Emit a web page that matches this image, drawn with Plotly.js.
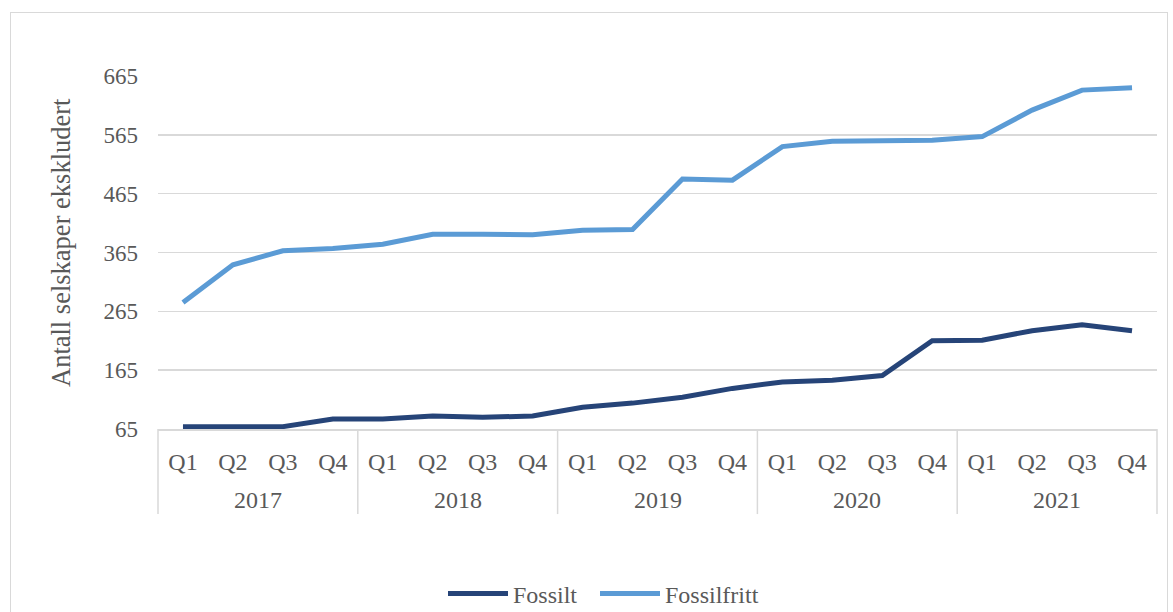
<!DOCTYPE html>
<html>
<head>
<meta charset="utf-8">
<script src="https://cdn.plot.ly/plotly-3.0.1.min.js"></script>
<style>
  html, body { margin: 0; padding: 0; background: #fff; }
  #wrap { position: relative; width: 1173px; height: 612px; overflow: hidden; }
  #chart { position: absolute; left: 0; top: 0; width: 1173px; height: 612px; }
  #frame { position: absolute; left: 10px; top: 12px; width: 1158px; height: 640px;
           border: 1.5px solid #d9d9d9; pointer-events: none; box-sizing: border-box; }
</style>
</head>
<body>
<div id="wrap">
  <div id="chart"></div>
  <div id="frame"></div>
</div>
<script>
const years = ["2017","2018","2019","2020","2021"];
const quarterNames = ["Q1","Q2","Q3","Q4"];
const fossilt = [69, 69, 69, 82, 82, 87, 85, 87, 102, 109, 119, 134, 145, 148, 156, 215, 216, 232, 242, 232];
const fossilfritt = [280, 344, 368, 372, 379, 396, 396, 395, 403, 404, 490, 488, 545, 554, 555, 556, 562, 607, 641, 645];
const yTicks = [65, 165, 265, 365, 465, 565, 665];

// category keys (year + quarter) and their tick labels (quarter only)
const periods = [];
const quarterLabels = [];
years.forEach(y => quarterNames.forEach(q => { periods.push(y + " " + q); quarterLabels.push(q); }));

const font = "'Liberation Serif', 'Times New Roman', serif";
const txt = "#595959";
const grid = "#d9d9d9";

const traces = [
  { x: periods, y: fossilt, name: "Fossilt", type: "scatter", mode: "lines",
    line: { color: "#264478", width: 5 }, legend: "legend" },
  { x: periods, y: fossilfritt, name: "Fossilfritt", type: "scatter", mode: "lines",
    line: { color: "#5B9BD5", width: 5 }, legend: "legend2" }
];

const nQ = quarterNames.length;
const n = periods.length;
const dividerBottom = -0.241;

const shapes = [];
for (let i = 0; i <= years.length; i++) {
  shapes.push({ type: "line", xref: "paper", yref: "paper",
    x0: (i * nQ) / n, x1: (i * nQ) / n, y0: 0, y1: dividerBottom,
    line: { color: grid, width: 1.5 } });
}

const annotations = years.map((y, i) => ({
  text: y, xref: "x", yref: "paper", x: i * nQ + (nQ - 1) / 2, y: -0.2,
  xanchor: "center", yanchor: "middle", showarrow: false,
  font: { family: font, size: 24, color: txt }
}));
annotations.push({ text: "Antall selskaper ekskludert", xref: "paper", yref: "paper",
  x: (61 - 158) / 999, y: (429 - 243) / 353, xanchor: "center", yanchor: "middle", textangle: -90,
  showarrow: false, font: { family: font, size: 26.5, color: txt } });

const legendBase = { orientation: "h", xref: "container", yref: "container",
  xanchor: "left", y: 1 - 594 / 612, yanchor: "middle",
  font: { family: font, size: 24, color: txt }, itemwidth: 60 };

const layout = {
  width: 1173, height: 612,
  margin: { l: 158, r: 16, t: 76, b: 183, autoexpand: false },
  paper_bgcolor: "#fff", plot_bgcolor: "#fff",
  font: { family: font, size: 23, color: txt },
  showlegend: true,
  legend: Object.assign({}, legendBase, { x: 443 / 1173 }),
  legend2: Object.assign({}, legendBase, { x: 595 / 1173 }),
  xaxis: { type: "category", range: [-0.5, n - 0.5], showgrid: false, zeroline: false,
           showline: true, linecolor: grid, linewidth: 1.5,
           tickvals: periods, ticktext: quarterLabels,
           ticks: "", ticklabelstandoff: 11, automargin: false,
           tickfont: { family: font, size: 24, color: txt }, fixedrange: true },
  yaxis: { range: [65, 665], tickvals: yTicks, ticktext: yTicks.map(String),
           showgrid: true, gridcolor: grid, gridwidth: 1.5, zeroline: false,
           showline: false, ticks: "", ticklabelstandoff: 19, automargin: false,
           tickfont: { family: font, size: 23, color: txt }, fixedrange: true },
  shapes: shapes,
  annotations: annotations
};

Plotly.newPlot("chart", traces, layout, { displayModeBar: false, staticPlot: true });
</script>
</body>
</html>
